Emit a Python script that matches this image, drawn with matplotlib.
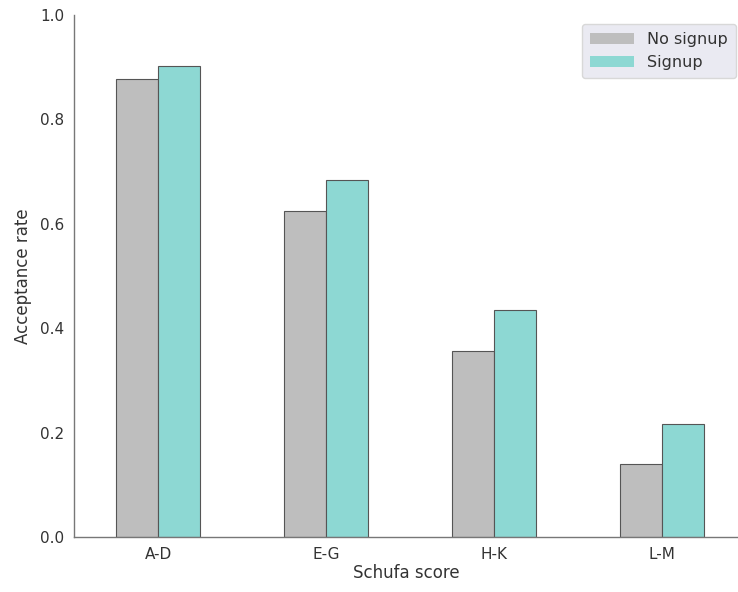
import numpy as np
import matplotlib
matplotlib.use("Agg")
import matplotlib.pyplot as plt

categories = ['A-D', 'E-G', 'H-K', 'L-M']
no_signup = [0.877, 0.624, 0.357, 0.139]
signup = [0.902, 0.683, 0.435, 0.217]

plt.rcParams['font.family'] = ['DejaVu Sans']
plt.rcParams['text.color'] = '.2'
plt.rcParams['axes.labelcolor'] = '.2'
plt.rcParams['xtick.color'] = '.2'
plt.rcParams['ytick.color'] = '.2'

fig = plt.figure(figsize=(7.38, 5.92), dpi=100)
ax = fig.add_axes([74/738, 55/592, 664/738, 522/592])

x = np.arange(len(categories))
w = 0.25
ax.bar(x - w/2, no_signup, width=w, color='#bebebe', edgecolor='#555555', linewidth=0.8, label='No signup')
ax.bar(x + w/2, signup, width=w, color='#8dd8d3', edgecolor='#555555', linewidth=0.8, label='Signup')

ax.set_xlim(-0.5, 3.45)
ax.set_ylim(0, 1.0)
ax.set_xticks(x)
ax.set_xticklabels(categories)
ax.set_yticks([0.0, 0.2, 0.4, 0.6, 0.8, 1.0])
ax.tick_params(length=0, labelsize=11, pad=7)
ax.set_xlabel('Schufa score', fontsize=12, labelpad=2)
ax.set_ylabel('Acceptance rate', fontsize=12, labelpad=6)

for s in ['top', 'right']:
    ax.spines[s].set_visible(False)
for s in ['left', 'bottom']:
    ax.spines[s].set_color('#777777')
    ax.spines[s].set_linewidth(1.0)

leg = ax.legend(loc='upper right', bbox_to_anchor=(662/664, 1 - 9/522), borderaxespad=0,
                fontsize=11.5, frameon=True, facecolor='#eaeaf2',
                edgecolor='#d8d8d8', framealpha=1.0, handlelength=2.8, borderpad=0.5)
for p in leg.get_patches():
    p.set_edgecolor('none')

plt.savefig('out.png', dpi=100)
